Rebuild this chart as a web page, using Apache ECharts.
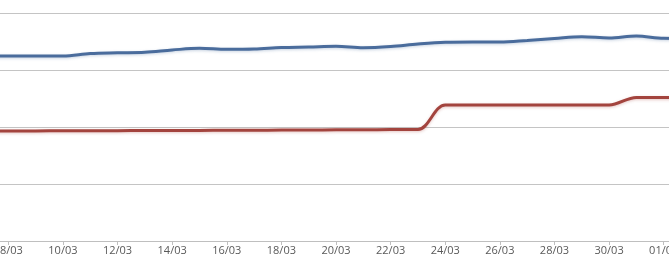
<!DOCTYPE html>
<html><head><meta charset="utf-8">
<script src="https://cdn.jsdelivr.net/npm/echarts@6/dist/echarts.min.js"></script>
<style>html,body{margin:0;padding:0;background:#fff;overflow:hidden;width:669px;height:262px}#c{width:710px;height:262px;margin-left:-19px}</style>
</head><body><div id="c"></div>
<script>
const categories = ['07/03','08/03','09/03','10/03','11/03','12/03','13/03','14/03','15/03','16/03','17/03','18/03','19/03','20/03','21/03','22/03','23/03','24/03','25/03','26/03','27/03','28/03','29/03','30/03','31/03','01/04','02/04'];
const seriesBlue = [324.6,324.6,324.6,324.6,328.9,330.2,331.1,335.1,338.1,336.3,336.8,339.5,340.4,341.6,339.1,341.2,345.6,348.6,349.1,349.1,351.8,355.3,358.4,356.1,359.6,355.6,355.3];
const seriesRed = [193.0,193.0,193.2,193.4,193.5,193.6,193.7,193.9,194.0,194.2,194.4,194.6,194.8,195.0,195.2,195.4,195.6,238.6,238.6,238.6,238.6,238.6,238.6,238.6,251.8,251.8,251.8];
const yTicks = [0,100,200,300,400];

const chart = echarts.init(document.getElementById('c'), null, {renderer:'canvas'});
chart.setOption({
  animation:false,
  grid:{left:0, right:0, top:13, bottom:21, containLabel:false},
  xAxis:{
    type:'category', data:categories, boundaryGap:false,
    axisLine:{lineStyle:{color:'#bfbfbf', width:1}},
    axisTick:{show:true, interval:(i)=>i%2===1, length:4, lineStyle:{color:'#bfbfbf'}},
    axisLabel:{interval:(i)=>i%2===1, color:'#595959', fontFamily:'Open Sans', fontSize:11, margin:4}
  },
  yAxis:{
    type:'value', min:yTicks[0], max:yTicks[yTicks.length-1], interval:100,
    axisLine:{show:false}, axisTick:{show:false}, axisLabel:{show:false},
    splitLine:{lineStyle:{color:'#c4c4c4', width:1}}
  },
  series:[
    {type:'line', data:seriesBlue, smooth:0.35, showSymbol:false,
     lineStyle:{color:'#4a6c9c', width:3, shadowColor:'rgba(74,108,156,0.3)', shadowBlur:3, shadowOffsetY:1}},
    {type:'line', data:seriesRed, smooth:0.35, showSymbol:false,
     lineStyle:{color:'#a3443e', width:3, shadowColor:'rgba(168,70,63,0.3)', shadowBlur:3, shadowOffsetY:1}}
  ]
});
</script></body></html>
